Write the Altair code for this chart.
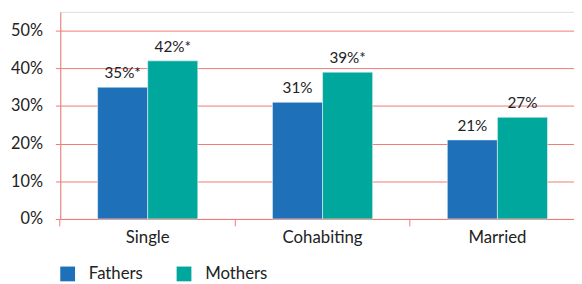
import altair as alt
import pandas as pd

categories = ["Single", "Cohabiting", "Married"]
series = ["Fathers", "Mothers"]
fathers = [35, 31, 21]
mothers = [42, 39, 27]
fathers_sig = [True, False, False]
mothers_sig = [True, True, False]
y_ticks = [0, 5, 10, 15, 20, 25, 30, 35, 40, 45, 50, 55]
colors = ["#1E70B8", "#00A79D"]

rows = []
for i, c in enumerate(categories):
    rows.append({"cat": c, "series": "Fathers", "value": fathers[i],
                 "label": f"{fathers[i]}%" + ("*" if fathers_sig[i] else "")})
    rows.append({"cat": c, "series": "Mothers", "value": mothers[i],
                 "label": f"{mothers[i]}%" + ("*" if mothers_sig[i] else "")})
df = pd.DataFrame(rows)

FONT = "Lato"
GRID = "#F07A74"

x = alt.X("cat:N", sort=categories, title=None,
          scale=alt.Scale(range=[0, 532], paddingInner=0.427, paddingOuter=0.2135),
          axis=alt.Axis(labelAngle=0, labelFontSize=17, labelColor="#222222",
                        labelFont=FONT, labelPadding=4, tickSize=7,
                        tickColor=GRID, domainColor=GRID, bandPosition=-0.373,
                        ticks=True, grid=False))
y = alt.Y("value:Q", title=None,
          scale=alt.Scale(domain=[0, 55], nice=False),
          axis=alt.Axis(values=y_ticks, labelExpr="datum.value % 10 == 0 ? datum.value + '%' : ''",
                        labelFontSize=16.5, labelColor="#222222", labelFont=FONT,
                        labelPadding=13, tickSize=5, tickColor=GRID, gridColor=GRID,
                        gridWidth=1, domainColor=GRID, grid=True))

base = alt.Chart(df).encode(
    x=x,
    xOffset=alt.XOffset("series:N", sort=series),
)

bars = base.mark_bar(stroke="#e8f4f4", strokeWidth=0.6).encode(
    y=y,
    color=alt.Color("series:N", sort=series,
                    scale=alt.Scale(domain=series, range=colors),
                    legend=alt.Legend(title=None, orient="none", direction="horizontal",
                                      legendX=-1, legendY=257, symbolType="square",
                                      symbolSize=225, symbolStrokeWidth=0,
                                      labelFontSize=17, labelFont=FONT,
                                      labelColor="#222222", labelOffset=13,
                                      columnPadding=33)),
)

labels = base.mark_text(baseline="bottom", dy=-6, fontSize=15.5, font=FONT,
                        color="#222222").encode(
    y=alt.Y("value:Q"),
    text="label:N",
)

chart = (bars + labels).properties(
    width=521, height=210,
    autosize=alt.AutoSizeParams(type="none"),
    padding={"left": 53, "top": 2, "right": 0, "bottom": 64},
).configure_view(stroke=None).configure(font=FONT)

chart.save("out.html", embed_options={"renderer": "svg", "actions": False})
